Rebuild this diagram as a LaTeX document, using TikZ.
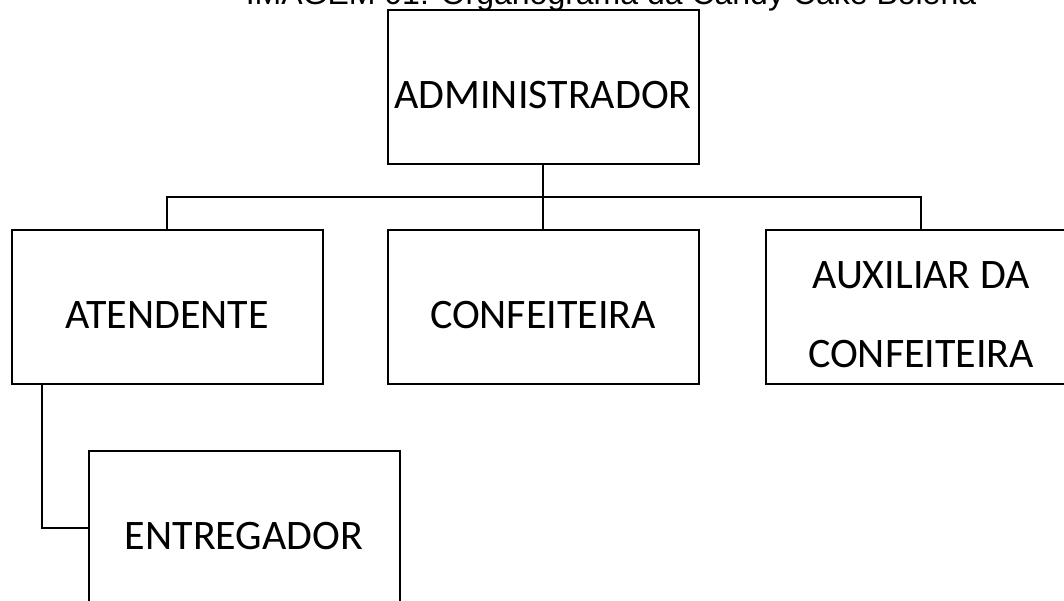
\documentclass[tikz,border=0pt]{standalone}
\usepackage{fontspec}
\setmainfont{Carlito}
\newfontfamily\titlefont{Liberation Sans}
\usepackage{tikz}
\usetikzlibrary{positioning}

\tikzset{cargo/.style={draw, line width=2pt, minimum width=311pt, minimum height=154pt, inner sep=0pt, align=center, font=\fontsize{42}{79}\selectfont}}
\newcommand{\alto}{\rule{0pt}{43pt}}

\begin{document}
\begin{tikzpicture}[x=1pt, y=1pt, node distance = 220pt, auto, line width=2pt]
      \useasboundingbox (0,0) rectangle (1064,-601);
      \clip (0,0) rectangle (1064,-601);
      \node (titulo) at (611,-5) [anchor=base, font=\titlefont\fontsize{32}{38}\selectfont] {IMAGEM 01: Organograma da Candy Cake Bolena};
      \node (adm) at (543,-87) [cargo] {\alto ADMINISTRADOR};
      \node (conf) [cargo, below of=adm] {\alto CONFEITEIRA};
      \node (aten) [cargo, left of=conf, node distance=376pt] {\alto ATENDENTE};
      \node (aux) [cargo, right of=conf, node distance=378pt] {\alto AUXILIAR DA\\CONFEITEIRA};
      \node (ent) [cargo, below of=aten, node distance=221pt, xshift=77pt] {\alto ENTREGADOR};
      \coordinate (barra) at (543,-197);
      \coordinate (ramo) at (42,-385);
    \draw [-] (adm.south) to (barra);
    \draw [-] (aten.north) |- (barra) -| (aux.north);
    \draw [-] (barra) to (conf.north);
    \draw [-] (ramo) |- (ent.west);
      \end{tikzpicture}
\end{document}
